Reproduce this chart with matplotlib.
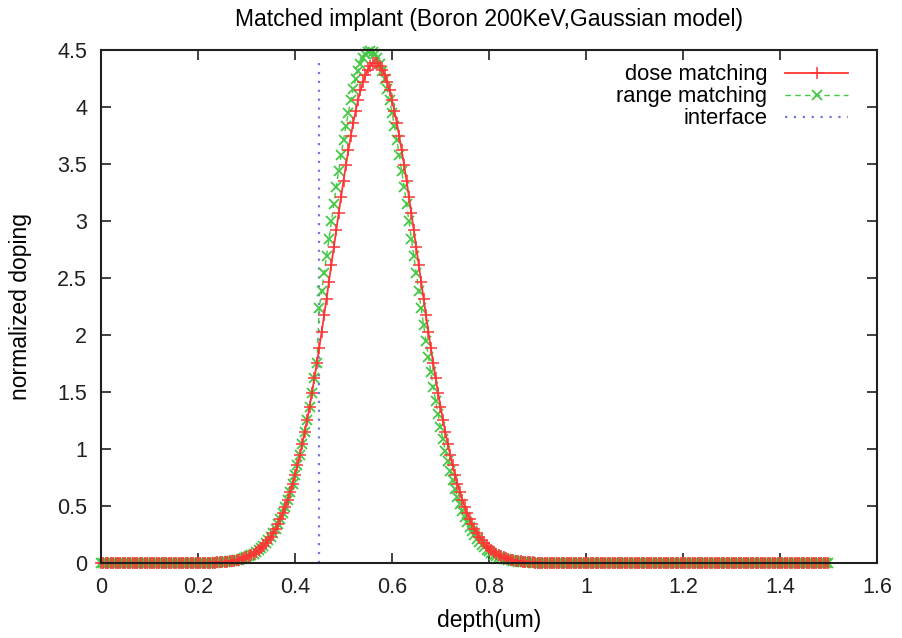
import numpy as np
import matplotlib
matplotlib.use("Agg")
import matplotlib.pyplot as plt
from matplotlib.ticker import FormatStrFormatter, MultipleLocator

plt.rcParams['font.family'] = ['Liberation Sans', 'DejaVu Sans']

# depth grid (um), step 0.005 from 0 to 1.5
depth = np.round(np.arange(301) * 0.005, 3)

# dose matching (red)
dose_matching = ([0.0] * 43 + [
    0.002, 0.002, 0.003, 0.003, 0.004, 0.005, 0.006, 0.008, 0.010, 0.012,
    0.014, 0.017, 0.020, 0.025, 0.029, 0.035, 0.042, 0.050, 0.059, 0.069,
    0.081, 0.095, 0.111, 0.129, 0.150, 0.173, 0.200, 0.230, 0.263, 0.300,
    0.342, 0.388, 0.438, 0.494, 0.555, 0.621, 0.694, 0.772, 0.856, 0.947,
    1.044, 1.147, 1.256, 1.371, 1.492, 1.619, 1.751, 1.887, 2.028, 2.172,
    2.319, 2.467, 2.618, 2.768, 2.918, 3.066, 3.211, 3.352, 3.489, 3.619,
    3.742, 3.858, 3.964, 4.060, 4.145, 4.218, 4.279, 4.327, 4.362, 4.383,
    4.390,
    4.383, 4.362, 4.327, 4.279, 4.218, 4.145, 4.060, 3.964, 3.858, 3.742,
    3.619, 3.489, 3.352, 3.211, 3.066, 2.918, 2.768, 2.618, 2.467, 2.319,
    2.172, 2.028, 1.887, 1.751, 1.619, 1.492, 1.371, 1.256, 1.147, 1.044,
    0.947, 0.856, 0.772, 0.694, 0.621, 0.555, 0.494, 0.438, 0.388, 0.342,
    0.300, 0.263, 0.230, 0.200, 0.173, 0.150, 0.129, 0.111, 0.095, 0.081,
    0.069, 0.059, 0.050, 0.042, 0.035, 0.029, 0.025, 0.020, 0.017, 0.014,
    0.012, 0.010, 0.008, 0.006, 0.005, 0.004, 0.003, 0.003, 0.002, 0.002,
] + [0.0] * 117)

# range matching (green)
range_matching = ([0.0] * 43 + [
    0.002, 0.002, 0.003, 0.003, 0.004, 0.005, 0.006, 0.008, 0.010, 0.012,
    0.014, 0.017, 0.020, 0.025, 0.029, 0.035, 0.042, 0.050, 0.059, 0.069,
    0.081, 0.095, 0.111, 0.129, 0.150, 0.173, 0.200, 0.230, 0.263, 0.300,
    0.342, 0.388, 0.438, 0.494, 0.555, 0.621, 0.694, 0.772, 0.856, 0.947,
    1.044, 1.147, 1.256, 1.371, 1.492, 1.619, 1.751,
    2.239, 2.388, 2.540, 2.693, 2.846, 2.998, 3.148, 3.295, 3.439, 3.577,
    3.710, 3.834, 3.951, 4.059, 4.156, 4.242, 4.316, 4.378, 4.427, 4.462,
    4.483, 4.490,
    4.483, 4.462, 4.427, 4.378, 4.316, 4.242, 4.156, 4.059, 3.951, 3.834,
    3.710, 3.577, 3.439, 3.295, 3.148, 2.998, 2.846, 2.693, 2.540, 2.388,
    2.239, 2.092, 1.948, 1.809, 1.674, 1.545, 1.421, 1.303, 1.191, 1.085,
    0.985, 0.892, 0.805, 0.724, 0.650, 0.581, 0.518, 0.460, 0.407, 0.360,
    0.316, 0.277, 0.243, 0.212, 0.184, 0.159, 0.138, 0.118, 0.102, 0.087,
    0.074, 0.063, 0.053, 0.045, 0.038, 0.032, 0.027, 0.022, 0.018, 0.015,
    0.013, 0.010, 0.009, 0.007, 0.006, 0.005, 0.004, 0.003, 0.002, 0.002,
] + [0.0] * 119)

interface_x = [0.45, 0.45]
interface_y = [0.0, 4.4]

title = "Matched implant (Boron 200KeV,Gaussian model)"
xlabel = "depth(um)"
ylabel = "normalized doping"
labels = ["dose matching", "range matching", "interface"]

fig = plt.figure(figsize=(9.03, 6.38), dpi=100)
ax = fig.add_axes([101 / 903, 1 - 563 / 638, (877 - 101) / 903, (563 - 50) / 638])

red = '#ff3535'
green = '#45c845'
blue = '#7575e0'

ax.plot(depth, range_matching, color=green, linestyle=(0, (4, 3)), linewidth=1.0,
        marker='x', markersize=7.5, markeredgewidth=1.3, clip_on=False,
        label=labels[1], zorder=2.1)
ax.plot(depth, dose_matching, color=red, linestyle='-', linewidth=1.3,
        marker='+', markersize=8, markeredgewidth=1.1, clip_on=False,
        label=labels[0], zorder=2.2)
ax.plot(interface_x, interface_y, color=blue, linestyle=(0, (1, 3)), linewidth=1.6,
        label=labels[2], zorder=2.0)

ax.set_xlim(0, 1.6)
ax.set_ylim(0, 4.5)
ax.xaxis.set_major_locator(MultipleLocator(0.2))
ax.yaxis.set_major_locator(MultipleLocator(0.5))
ax.xaxis.set_major_formatter(FormatStrFormatter('%g'))
ax.yaxis.set_major_formatter(FormatStrFormatter('%g'))
ax.tick_params(direction='in', length=7, width=1.2, top=True, right=True,
               labelsize=15.5, pad=10, colors='#202020')
for s in ax.spines.values():
    s.set_linewidth(1.5)
    s.set_color('#202020')
    s.set_zorder(3)

ax.set_title(title, fontsize=16.5, pad=17)
ax.set_xlabel(xlabel, fontsize=16.5, labelpad=8)
ax.set_ylabel(ylabel, fontsize=16.5, labelpad=18)

h, l = ax.get_legend_handles_labels()
order = [1, 0, 2]
leg = ax.legend([h[i] for i in order], [l[i] for i in order], loc='upper right',
                frameon=False, markerfirst=False, numpoints=1, handlelength=2.87,
                fontsize=15.8, labelspacing=0.05, handletextpad=0.82,
                borderaxespad=0.0, bbox_to_anchor=(0.974, 0.9893))

fig.savefig("out.png", dpi=100)
